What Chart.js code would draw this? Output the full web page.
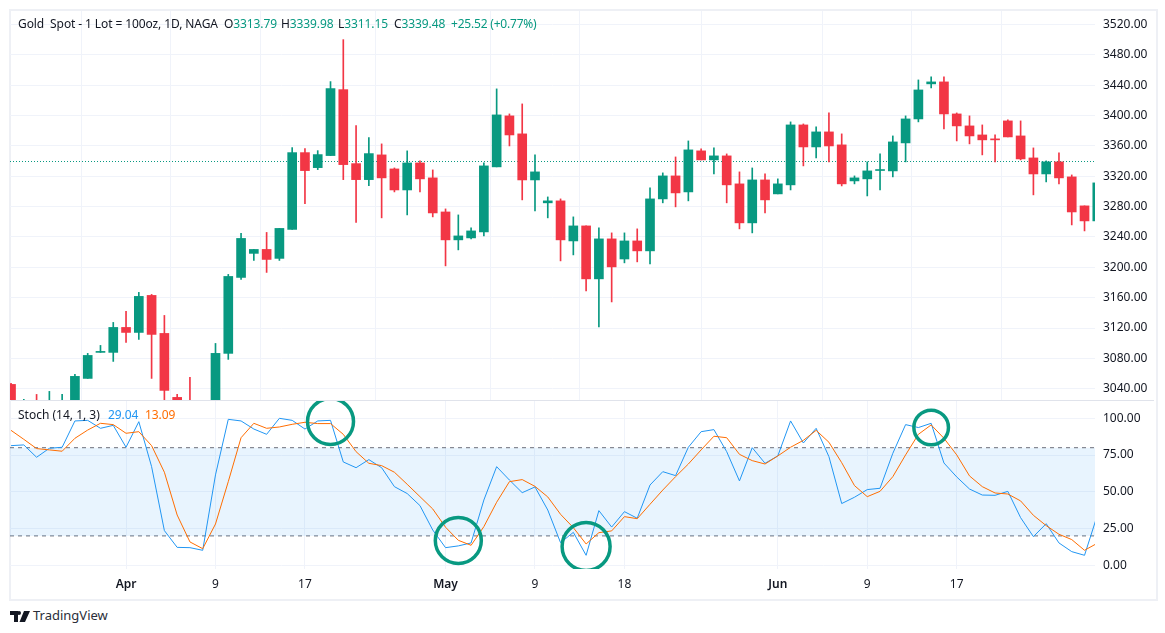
<!DOCTYPE html>
<html>
<head>
<meta charset="utf-8">
<style>
  html, body { margin: 0; padding: 0; background: #fff; }
  body { width: 1165px; height: 633px; position: relative; overflow: hidden; font-family: "Noto Sans", sans-serif; color: #131722; }
  #frame { position: absolute; left: 9px; top: 9px; width: 1145px; height: 588px; border: 2px solid #eef0f5; }
  #divider { position: absolute; left: 11px; top: 400px; width: 1143px; height: 1px; background: #e0e3eb; }
  canvas { position: absolute; left: 0; }
  #priceCanvas { top: 0; }
  #stochCanvas { top: 401px; }
  .label { position: absolute; font-size: 12px; line-height: 16px; white-space: pre; letter-spacing: -0.1px; }
  .up { color: #089981; }
  #brand { position: absolute; left: 33px; top: 607px; font-size: 13px; line-height: 16px; color: #2a2e39; }
  #logo { position: absolute; left: 10px; top: 611px; }
</style>
</head>
<body>
<div id="frame"></div>
<canvas id="priceCanvas"></canvas>
<canvas id="stochCanvas"></canvas>
<div id="divider"></div>
<div class="label" style="left:18px;top:16px">Gold  Spot - 1 Lot = 100oz, 1D, NAGA</div>
<div class="label" style="left:224px;top:16px">O<span class="up">3313.79</span></div>
<div class="label" style="left:281px;top:16px">H<span class="up">3339.98</span></div>
<div class="label" style="left:338px;top:16px">L<span class="up">3311.15</span></div>
<div class="label" style="left:394px;top:16px">C<span class="up">3339.48</span></div>
<div class="label up" style="left:451px;top:16px;letter-spacing:-0.2px">+25.52 (+0.77%)</div>
<div class="label" style="left:18px;top:407px;letter-spacing:0">Stoch (14, 1, 3)</div>
<div class="label" style="left:108px;top:407px;color:#2196f3">29.04</div>
<div class="label" style="left:145px;top:407px;color:#ff6d00">13.09</div>
<svg id="logo" width="20" height="11" viewBox="0 0 20 11"><path fill="#131722" d="M0 0h8v11H4V4H0zM9 0a2 2 0 1 1 0 4a2 2 0 0 1 0-4zM14 0h6l-5 11H9.5z"/></svg>
<div id="brand">TradingView</div>

<script src="https://cdn.jsdelivr.net/npm/chart.js@4"></script>
<script>
const opens = [3045.7,3010,3022,3015,3016,3024,3053.6,3087.9,3087.9,3120.8,3114.2,3163,3112.9,3028.6,3020,3010,3022,3086.6,3186.7,3218.4,3223.6,3211.8,3250,3351.2,3331.4,3347.3,3434.2,3336.7,3315.6,3348.2,3329.7,3302,3337.6,3317.9,3273,3236.2,3238.8,3246.7,3332.4,3399.6,3375.9,3315.2,3285,3287.6,3234.8,3254.6,3184.8,3237.5,3211,3234.8,3221.7,3290.2,3320.5,3299.4,3353.5,3341.6,3346.9,3310,3258.6,3315.2,3296.8,3308.7,3387.7,3358.7,3378.5,3361.4,3313.9,3316.6,3327.6,3327.1,3364,3395.6,3441.8,3444.4,3402.2,3386.4,3374.5,3369.3,3393,3373.2,3344.2,3323.1,3339,3319.2,3281,3261.2];
const highs = [3047,3026,3032.5,3036.5,3032.5,3058.9,3086.6,3097.1,3127.4,3141.9,3167,3164.3,3136.6,3032.5,3054.9,3023,3099.7,3190.7,3244.7,3223.6,3246,3251.3,3357.8,3356.5,3353.8,3444.8,3500.1,3386.8,3371,3362.7,3331,3353.5,3340.3,3328.4,3277,3269.1,3252,3337.6,3435.2,3402.2,3415.4,3348.2,3292.8,3290.2,3266.5,3254.6,3252,3245.4,3245.4,3250.7,3304.7,3324.5,3345.5,3366.6,3356.1,3357.4,3349.5,3325.8,3331,3323.1,3316.6,3391.7,3389,3385.1,3403.5,3375.9,3320.5,3339,3349.5,3373.2,3399.6,3447,3451,3451,3403.5,3399.6,3387.7,3374.5,3394.3,3393,3357.4,3340.3,3350.8,3321.8,3281,3315];
const lows = [3015,3005,3005,3008,3010,3018,3053.6,3087.9,3076,3101,3105,3053.6,3020,3015,3010,3004,3018,3078.7,3184.1,3209.1,3193.3,3209.1,3250,3284,3328.8,3347.3,3315.6,3259.2,3307.7,3265.2,3299.4,3269.1,3299.4,3266.5,3201.9,3223,3237.5,3241.4,3332.4,3360,3288.9,3274.4,3265.2,3208.5,3216.4,3168.9,3121.5,3154.4,3205.9,3207.2,3204.5,3285,3279.7,3287.6,3341.6,3323.1,3285,3250.7,3245.4,3271.7,3296.8,3302,3333.7,3344.2,3339,3307.3,3310,3294.1,3302,3319.2,3339,3391.7,3436.5,3382.5,3366.6,3362.7,3348.2,3339,3371.9,3341.6,3295.5,3312.6,3310,3255.9,3248,3259];
const closes = [3022,3020,3012,3024,3024,3056.3,3083.9,3089.2,3120.8,3114.2,3161.7,3111.6,3037.8,3018,3014,3020,3086.6,3188,3238.1,3223.6,3210.4,3251.3,3351.2,3327.5,3348.6,3435.6,3335.4,3315.6,3349.9,3317.9,3302,3337.6,3316.6,3271.7,3236.2,3241.4,3248,3333.7,3400.9,3374.5,3315.2,3325.8,3287.6,3236.2,3254.6,3184.8,3237.5,3200.6,3234.8,3221.7,3290.2,3320.5,3298.1,3354.8,3341.6,3346.9,3308.7,3258.6,3315.2,3288.9,3310,3387.7,3358.7,3378.5,3360,3310,3317.9,3327.1,3328.4,3365.3,3395.6,3433.8,3444.4,3402.2,3386.4,3373.2,3368,3368,3371.9,3342.9,3323.1,3339,3317.9,3273,3261.2,3311.3];

const stochK = [81.4,81.9,73.5,79.6,80.3,98.2,98.6,93.2,95.2,80.3,97.7,67.1,23.6,12.2,12,10.2,61.5,99.3,98.2,92.7,89.1,100,98.6,92.7,98.2,98.6,70.3,66.4,71.9,66.4,53.5,48.8,40.6,24,12,13.2,15.2,44.4,67.1,58,49.4,53.3,37.6,15.4,22.4,6.8,37.2,26,36.5,32,54.6,63.7,61,80.3,90.9,92.3,77.3,57.4,80,69.4,74.4,98.2,83.2,93.2,73.9,42,46.3,51.5,52.4,76.2,95.7,93.7,96.6,69.6,60.1,51.9,47.8,47.6,50.3,32.4,19.5,28.3,15.2,9.3,6.8,34];
const stochD = [91.8,85.7,79.4,78.5,77.6,86.4,92,96.6,95.7,89.8,90.9,81.4,63.3,34.2,15.9,11.3,28.1,56.9,86.8,96.6,93.2,94.1,95.9,97.3,96.4,96.4,89.1,77.3,69.4,67.8,63.3,55.1,46.7,38.3,25.9,17,13.6,26.3,42.9,56.9,58.3,53.7,46.5,34.7,25.6,14.5,22.2,23.4,33.1,31.7,41.5,51.2,60.3,68.9,78.5,87.8,86.8,75.5,71.2,68.9,74.4,80.3,85,91.8,83.7,69.8,54.2,46.7,50.3,60.3,75.1,89.1,95.5,86.4,75.1,60.8,53.5,49.2,48.5,43.8,34,27,21.1,17.5,10.2,15];

const priceTicks = [3040,3080,3120,3160,3200,3240,3280,3320,3360,3400,3440,3480,3520];
const stochTicks = [0,25,50,75,100];
const dateTickBars = [9,16,23,34,41,48,60,67,74];
const dateTickLabels = ["Apr","9","17","May","9","18","Jun","9","17"];
const monthLabels = ["Apr","May","Jun"];
const lastPrice = 3339.48;
const upperBand = 80;
const lowerBand = 20;
const circleBars = [25,35,45,72];
const circleValues = [97.8,16.9,12.8,93.7];

const GREEN = "#089981";
const RED = "#f23645";
const GRID = "#f0f3fa";
const TEXT = "#131722";
const FONT = '"Noto Sans", sans-serif';
const X_MIN = -0.08;
const X_MAX = 84.82;

const bars = opens.map((_, i) => i);
const candleColor = ctx => closes[ctx.dataIndex] >= opens[ctx.dataIndex] ? GREEN : RED;

// the labels would otherwise push the chart area in from the edges
function dropPadding(axis) {
  axis.paddingTop = 0;
  axis.paddingBottom = 0;
  axis.paddingLeft = 0;
  axis.paddingRight = 0;
}

function sharedX(showLabels) {
  return {
    type: "linear",
    min: X_MIN,
    max: X_MAX,
    offset: false,
    border: { display: false },
    grid: { color: GRID, drawTicks: false, lineWidth: 1 },
    afterBuildTicks: axis => { axis.ticks = dateTickBars.map(v => ({ value: v })); },
    afterFit: axis => {
      axis.height = showLabels ? 28 : 0;
      dropPadding(axis);
    },
    ticks: {
      display: showLabels,
      autoSkip: false,
      maxRotation: 0,
      padding: 8,
      color: TEXT,
      font: ctx => ({
        family: FONT,
        size: 12,
        weight: monthLabels.includes(dateTickLabels[ctx.index]) ? "600" : "400"
      }),
      callback: (value, index) => dateTickLabels[index]
    }
  };
}

function sharedY(min, max, tickValues) {
  return {
    position: "right",
    min: min,
    max: max,
    border: { display: false },
    grid: { color: GRID, drawTicks: false, lineWidth: 1 },
    afterBuildTicks: axis => { axis.ticks = tickValues.map(v => ({ value: v })); },
    afterFit: axis => {
      axis.width = 70;
      dropPadding(axis);
    },
    ticks: {
      color: TEXT,
      crossAlign: "near",
      padding: 8,
      font: { family: FONT, size: 12 },
      callback: value => value.toFixed(2)
    }
  };
}

const baseOptions = {
  responsive: false,
  animation: false,
  events: [],
  plugins: { legend: { display: false }, tooltip: { enabled: false } }
};

function setSize(id, w, h) {
  const canvas = document.getElementById(id);
  canvas.width = w;
  canvas.height = h;
  canvas.style.width = w + "px";
  canvas.style.height = h + "px";
  return canvas;
}

new Chart(setSize("priceCanvas", 1165, 401), {
  type: "bar",
  data: {
    datasets: [
      {
        label: "Body",
        data: bars.map(i => ({ x: i, y: [opens[i], closes[i]] })),
        backgroundColor: candleColor,
        barThickness: 9,
        minBarLength: 1,
        grouped: false,
        clip: 0
      },
      {
        label: "Wick",
        data: bars.map(i => ({ x: i, y: [lows[i], highs[i]] })),
        backgroundColor: candleColor,
        barThickness: 1,
        grouped: false,
        clip: 0
      },
      {
        type: "line",
        label: "Last",
        data: [{ x: X_MIN, y: lastPrice }, { x: X_MAX, y: lastPrice }],
        borderColor: GREEN,
        borderWidth: 1,
        borderDash: [1, 2],
        pointRadius: 0,
        clip: 0
      }
    ]
  },
  options: {
    ...baseOptions,
    layout: { autoPadding: false, padding: { left: 10, top: 11, right: 0, bottom: 1 } },
    scales: {
      x: sharedX(false),
      y: sharedY(3025.15, 3537.85, priceTicks)
    }
  }
});

new Chart(setSize("stochCanvas", 1165, 196), {
  type: "line",
  data: {
    datasets: [
      {
        type: "scatter",
        label: "Marks",
        data: circleBars.map((b, i) => ({ x: b, y: circleValues[i] })),
        showLine: false,
        backgroundColor: "transparent",
        borderColor: GREEN,
        borderWidth: 3.5,
        pointRadius: [23, 23, 24, 17.3],
        clip: 0
      },
      {
        label: "%D",
        data: bars.map(i => ({ x: i, y: stochD[i] })),
        borderColor: "#ff6d00",
        borderWidth: 1,
        pointRadius: 0,
        tension: 0,
        clip: 0
      },
      {
        label: "%K",
        data: bars.map(i => ({ x: i, y: stochK[i] })),
        borderColor: "#2196f3",
        borderWidth: 1,
        pointRadius: 0,
        tension: 0,
        clip: 0
      },
      {
        label: "Upper",
        data: [{ x: X_MIN, y: upperBand }, { x: X_MAX, y: upperBand }],
        borderColor: "#6b6e79",
        borderWidth: 1,
        borderDash: [4, 4],
        pointRadius: 0,
        fill: "+1",
        backgroundColor: "rgba(33,150,243,0.1)",
        clip: 0
      },
      {
        label: "Lower",
        data: [{ x: X_MIN, y: lowerBand }, { x: X_MAX, y: lowerBand }],
        borderColor: "#6b6e79",
        borderWidth: 1,
        borderDash: [4, 4],
        pointRadius: 0,
        clip: 0
      }
    ]
  },
  options: {
    ...baseOptions,
    layout: { autoPadding: false, padding: { left: 10, top: 0, right: 0, bottom: 0 } },
    scales: {
      x: sharedX(true),
      y: sharedY(-2.52, 111.77, stochTicks)
    }
  }
});
</script>
</body>
</html>
